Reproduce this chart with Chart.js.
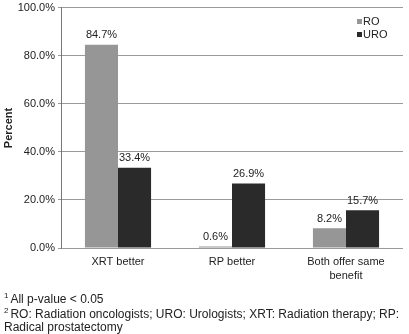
<!DOCTYPE html>
<html>
<head>
<meta charset="utf-8">
<script src="https://cdn.jsdelivr.net/npm/chart.js@4"></script>
<style>
  body { margin: 0; background: #fff; overflow: hidden; }
  #wrap { position: relative; width: 409px; height: 334px; overflow: hidden; }
  .note { position: absolute; left: 4px; font: 12px "Liberation Sans", Arial, sans-serif; line-height: 14px; color: #222; white-space: nowrap; }
  .note sup { font-size: 8px; line-height: 0; vertical-align: 5px; margin-right: 2px; }
</style>
</head>
<body>
<div id="wrap">
  <canvas id="chart" width="409" height="334"></canvas>
  <div class="note" style="top:292px"><sup>1</sup>All p-value &lt; 0.05</div>
  <div class="note" style="top:307px"><sup>2</sup>RO: Radiation oncologists; URO: Urologists; XRT: Radiation therapy; RP:</div>
  <div class="note" style="top:320px">Radical prostatectomy</div>
</div>
<script>
// Data
const categories = ['XRT better', 'RP better', ['Both offer same', 'benefit']];
const roValues = [84.7, 0.6, 8.2];
const uroValues = [33.4, 26.9, 15.7];
const yTicks = [0, 20, 40, 60, 80, 100];

const FONT = '"Liberation Sans", Arial, sans-serif';

// value labels above bars
const valueLabels = {
    id: 'valueLabels',
    afterDatasetsDraw(chart) {
        const ctx = chart.ctx;
        ctx.save();
        ctx.font = '11px ' + FONT;
        ctx.fillStyle = '#222';
        ctx.textAlign = 'center';
        ctx.textBaseline = 'bottom';
        chart.data.datasets.forEach((ds, i) => {
            chart.getDatasetMeta(i).data.forEach((bar, j) => {
                ctx.fillText(ds.data[j].toFixed(1) + '%', bar.x, bar.y - 4);
            });
        });
        ctx.restore();
    }
};

// small legend inside plot area, top right
const innerLegend = {
    id: 'innerLegend',
    afterDraw(chart) {
        const ctx = chart.ctx;
        ctx.save();
        ctx.font = '11px ' + FONT;
        ctx.textBaseline = 'middle';
        chart.data.datasets.forEach((ds, i) => {
            const y = 22 + i * 13;
            ctx.fillStyle = ds.backgroundColor;
            ctx.fillRect(357, y - 3, 5, 5);
            ctx.fillStyle = '#222';
            ctx.fillText(ds.label, 363, y);
        });
        ctx.restore();
    }
};

new Chart(document.getElementById('chart'), {
    type: 'bar',
    data: {
        labels: categories,
        datasets: [
            { label: 'RO', data: roValues, backgroundColor: '#969696' },
            { label: 'URO', data: uroValues, backgroundColor: '#2a2a2a' }
        ]
    },
    options: {
        responsive: false,
        animation: false,
        layout: { padding: { top: 0, right: 6, left: 0, bottom: 0 } },
        datasets: { bar: { categoryPercentage: 0.58, barPercentage: 1.0 } },
        plugins: {
            legend: { display: false },
            tooltip: { enabled: false }
        },
        scales: {
            y: {
                min: 0,
                max: 100,
                afterBuildTicks: axis => { axis.ticks = yTicks.map(v => ({ value: v })); },
                afterFit: axis => { axis.width = 61; },
                ticks: {
                    callback: v => v.toFixed(1) + '%',
                    font: { family: FONT, size: 11, lineHeight: 0.9 },
                    color: '#222',
                    padding: 3
                },
                grid: { color: '#9a9a9a', tickLength: 3, lineWidth: 1 },
                border: { color: '#777', width: 1 },
                title: {
                    display: true,
                    text: 'Percent',
                    font: { family: FONT, size: 11, weight: 'bold' },
                    color: '#222',
                    padding: { top: 2, bottom: 0 }
                }
            },
            x: {
                afterFit: axis => { axis.height = 334 - 248; },
                ticks: {
                    font: { family: FONT, size: 11, lineHeight: 1.25 },
                    color: '#222',
                    padding: 7,
                    maxRotation: 0
                },
                grid: { display: false, drawTicks: false },
                border: { display: false }
            }
        }
    },
    plugins: [valueLabels, innerLegend]
});
</script>
</body>
</html>
